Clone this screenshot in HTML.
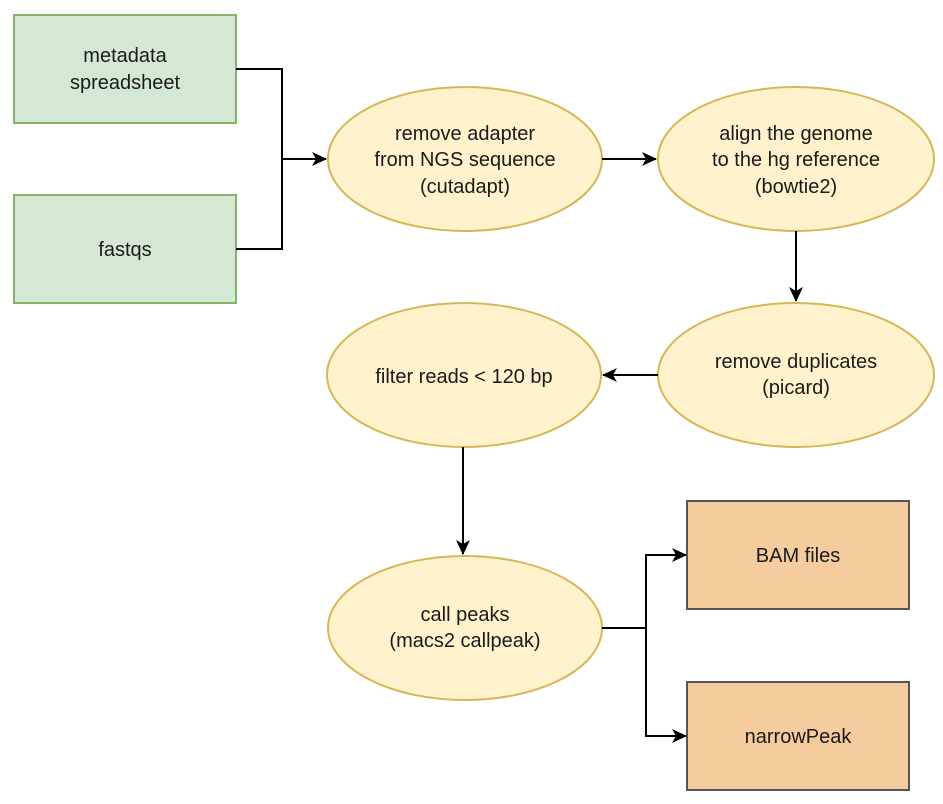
<!DOCTYPE html>
<html><head><style>
html,body{margin:0;padding:0;background:#fff;}
svg text{font-family:"Liberation Sans",Arial,sans-serif;font-size:20px;fill:#1a1a1a;text-anchor:middle;}
</style></head><body>
<svg width="943" height="799" viewBox="0 0 943 799" xmlns="http://www.w3.org/2000/svg">
<defs><marker id="a" markerWidth="16" markerHeight="16" refX="14" refY="7" orient="auto" markerUnits="userSpaceOnUse"><path d="M0,0 L15,7 L0,14 L4,7 z" fill="#000"/></marker></defs>
<rect x="14" y="15" width="222" height="108" fill="#d5e8d4" stroke="#82b366" stroke-width="2"/>
<rect x="14" y="195" width="222" height="108" fill="#d5e8d4" stroke="#82b366" stroke-width="2"/>
<text x="125" y="62">metadata</text><text x="125" y="89">spreadsheet</text>
<text x="125" y="256">fastqs</text>
<path d="M236,69 H282 V249 H236" fill="none" stroke="#000" stroke-width="2"/>
<path d="M282,159 H326" fill="none" stroke="#000" stroke-width="2" marker-end="url(#a)"/>
<g fill="#fff2cc" stroke="#d6b656" stroke-width="2">
<ellipse cx="465" cy="159" rx="137" ry="72"/>
<ellipse cx="796" cy="159" rx="138" ry="72"/>
<ellipse cx="796" cy="375" rx="138" ry="72"/>
<ellipse cx="464" cy="375" rx="137" ry="72"/>
<ellipse cx="465" cy="628" rx="137" ry="72"/>
</g>
<text x="465" y="140">remove adapter</text><text x="465" y="166">from NGS sequence</text><text x="465" y="193">(cutadapt)</text>
<text x="796" y="140">align the genome</text><text x="796" y="166">to the hg reference</text><text x="796" y="193">(bowtie2)</text>
<text x="796" y="368">remove duplicates</text><text x="796" y="394">(picard)</text>
<text x="464" y="383">filter reads &lt; 120 bp</text>
<text x="465" y="621">call peaks</text><text x="465" y="647">(macs2 callpeak)</text>
<path d="M602,159 H656" stroke="#000" stroke-width="2" marker-end="url(#a)"/>
<path d="M796,231 V301" stroke="#000" stroke-width="2" marker-end="url(#a)"/>
<path d="M658,375 H603" stroke="#000" stroke-width="2" marker-end="url(#a)"/>
<path d="M463,447 V554" stroke="#000" stroke-width="2" marker-end="url(#a)"/>
<path d="M602,628 H646 V555 H686" fill="none" stroke="#000" stroke-width="2" marker-end="url(#a)"/>
<path d="M646,628 V736 H686" fill="none" stroke="#000" stroke-width="2" marker-end="url(#a)"/>
<rect x="687" y="501" width="222" height="108" fill="#f5cc9e" stroke="#555" stroke-width="2"/>
<rect x="687" y="682" width="222" height="108" fill="#f5cc9e" stroke="#555" stroke-width="2"/>
<text x="798" y="562">BAM files</text>
<text x="798" y="743">narrowPeak</text>
</svg>
</body></html>
